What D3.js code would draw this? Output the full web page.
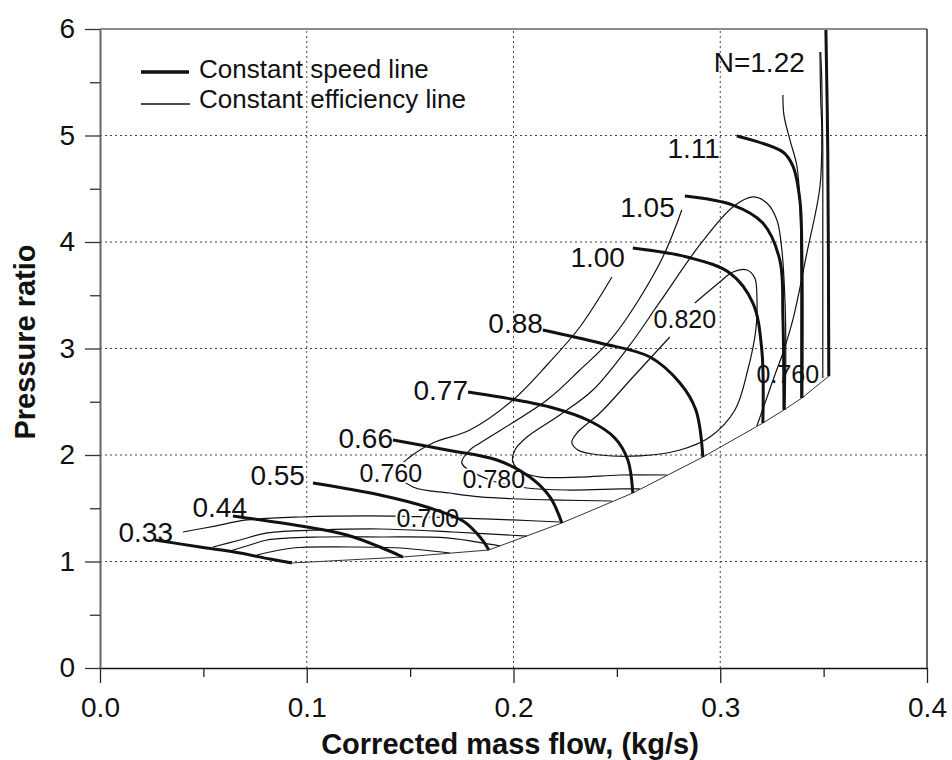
<!DOCTYPE html>
<html>
<head>
<meta charset="utf-8">
<script src="https://cdn.jsdelivr.net/npm/d3@7"></script>
<style>
  body { margin: 0; background: #fff; }
  text { font-family: "Liberation Sans", Arial, sans-serif; }
</style>
</head>
<body>
<svg id="chart"></svg>
<script>
// axis ticks
const xTicks = [0, 0.1, 0.2, 0.3, 0.4];
const xMinor = [0.05, 0.15, 0.25, 0.35];
const yTicks = [0, 1, 2, 3, 4, 5, 6];
const yMinor = [0.5, 1.5, 2.5, 3.5, 4.5, 5.5];

// constant speed lines, [mass flow, pressure ratio]
const speedNames = ["0.33", "0.44", "0.55", "0.66", "0.77", "0.88", "1.00", "1.05", "1.11", "N=1.22"];
const n033 = [[0.0266, 1.202], [0.0484, 1.136], [0.0677, 1.080], [0.0822, 1.023], [0.0928, 0.986]];
const n044 = [[0.0643, 1.427], [0.1001, 1.324], [0.1194, 1.249], [0.1354, 1.136], [0.1465, 1.042]];
const n055 = [[0.1030, 1.737], [0.1354, 1.624], [0.1596, 1.502], [0.1756, 1.380], [0.1838, 1.230], [0.1881, 1.108]];
const n066 = [[0.1417, 2.141], [0.1678, 2.047], [0.1920, 1.953], [0.2079, 1.793], [0.2176, 1.606], [0.2234, 1.362]];
const n077 = [[0.1780, 2.592], [0.1934, 2.545], [0.2176, 2.451], [0.2369, 2.319], [0.2490, 2.160], [0.2553, 1.953], [0.2577, 1.643]];
const n088 = [[0.2142, 3.174], [0.2418, 3.052], [0.2660, 2.920], [0.2805, 2.676], [0.2882, 2.423], [0.2916, 1.981]];
const n100 = [[0.2577, 3.944], [0.2839, 3.859], [0.3046, 3.709], [0.3158, 3.427], [0.3201, 2.986], [0.3206, 2.300]];
const n105 = [[0.2829, 4.432], [0.3061, 4.347], [0.3206, 4.178], [0.3288, 3.831], [0.3303, 3.296], [0.3308, 2.423]];
const n111 = [[0.3080, 4.995], [0.3303, 4.845], [0.3351, 4.714], [0.3385, 4.394], [0.3395, 3.831], [0.3395, 2.535]];
const n122 = [[0.3511, 5.990], [0.3520, 4.860], [0.3525, 2.740]];
// where each speed label ends (right edge, baseline)
const speedLabelAt = [[0.0353, 1.183], [0.0711, 1.418], [0.0991, 1.718], [0.1417, 2.066], [0.1780, 2.516],
  [0.2142, 3.146], [0.2539, 3.765], [0.2780, 4.235], [0.2998, 4.789], [0.3409, 5.596]];

// constant efficiency lines
const eff700 = [[0.0401, 1.277], [0.0556, 1.333], [0.0711, 1.390], [0.0967, 1.418], [0.1417, 1.427],
  [0.1586, 1.418], [0.1741, 1.408], [0.1997, 1.390], [0.2224, 1.371]];
const effB = [[0.0546, 1.136], [0.0677, 1.202], [0.0808, 1.268], [0.1064, 1.296], [0.1354, 1.305], [0.1707, 1.277], [0.2065, 1.239]];
const effC = [[0.0629, 1.099], [0.0725, 1.155], [0.0808, 1.202], [0.1064, 1.230], [0.1354, 1.230], [0.1678, 1.221], [0.1934, 1.146]];
const effD = [[0.0759, 1.061], [0.0933, 1.127], [0.1209, 1.136], [0.1451, 1.127], [0.1692, 1.080]];
const eff760 = [[0.2476, 3.671], [0.2321, 3.202], [0.2162, 2.845], [0.1997, 2.516], [0.1789, 2.235], [0.1610, 2.113],
  [0.1499, 1.981], [0.1431, 1.840], [0.1514, 1.700], [0.1692, 1.643], [0.1838, 1.606], [0.2031, 1.587], [0.2224, 1.577], [0.2476, 1.568]];
const eff780 = [[0.2814, 4.300], [0.2708, 3.803], [0.2481, 3.108], [0.2321, 2.798], [0.2162, 2.516], [0.1838, 2.113],
  [0.1789, 2.047], [0.1750, 1.925], [0.1886, 1.765], [0.2065, 1.690], [0.2273, 1.671], [0.2515, 1.681], [0.2611, 1.681]];
const eff800 = [[0.2742, 1.812], [0.2515, 1.812], [0.2321, 1.793], [0.2128, 1.793], [0.2041, 1.840], [0.1997, 1.934],
  [0.2007, 2.047], [0.2065, 2.169], [0.2224, 2.376], [0.2384, 2.610], [0.2563, 3.033], [0.2708, 3.437], [0.2901, 3.972],
  [0.3061, 4.329], [0.3158, 4.423], [0.3225, 4.366], [0.3274, 4.207], [0.3298, 3.925], [0.3313, 3.455], [0.3317, 2.986], [0.3313, 2.423]];
const eff820 = [[0.2877, 3.427], [0.2998, 3.624], [0.3061, 3.718], [0.3129, 3.737], [0.3167, 3.662], [0.3177, 3.502],
  [0.3172, 3.174], [0.3133, 2.798], [0.3071, 2.423], [0.2950, 2.169], [0.2805, 2.047], [0.2611, 1.991], [0.2418, 2.000],
  [0.2311, 2.047], [0.2282, 2.122], [0.2311, 2.216], [0.2418, 2.394], [0.2587, 2.751], [0.2756, 3.108]];
const effR1 = [[0.3303, 5.380], [0.3308, 5.192], [0.3337, 4.958], [0.3370, 4.723], [0.3385, 4.394], [0.3390, 3.831], [0.3390, 3.174], [0.3390, 2.535]];
const effR2 = [[0.3482, 5.784], [0.3486, 5.333], [0.3491, 5.052], [0.3482, 4.516], [0.3419, 3.897], [0.3351, 3.268],
  [0.3303, 2.958], [0.3264, 2.751], [0.3230, 2.563], [0.3177, 2.272]];
const effR3 = [[0.3486, 5.784], [0.3491, 5.521], [0.3496, 4.864], [0.3496, 3.925], [0.3496, 2.723]];

const effNames = ["0.700", "0.760", "0.780", "0.820", "0.760"];
const effLabelAt = [[0.1586, 1.324], [0.1407, 1.746], [0.1905, 1.690], [0.2829, 3.192], [0.3327, 2.676]];

const speedLines = [n033, n044, n055, n066, n077, n088, n100, n105, n111, n122];
const effLines = [eff700, effB, effC, effD, eff760, eff780, eff800, eff820, effR1, effR2, effR3];

const width = 952, height = 760;
const svg = d3.select("#chart").attr("width", width).attr("height", height);

const x = d3.scaleLinear().domain([0, 0.4]).range([100, 927]);
const y = d3.scaleLinear().domain([0, 6]).range([668, 29]);

// dotted grid
svg.append("g").selectAll("line").data(xTicks.slice(1, -1)).join("line")
  .attr("x1", d => x(d)).attr("x2", d => x(d)).attr("y1", y(0)).attr("y2", y(6))
  .attr("stroke", "#444").attr("stroke-width", 1).attr("stroke-dasharray", "2,3");
svg.append("g").selectAll("line").data(yTicks.slice(1, -1)).join("line")
  .attr("x1", x(0)).attr("x2", x(0.4)).attr("y1", d => y(d)).attr("y2", d => y(d))
  .attr("stroke", "#444").attr("stroke-width", 1).attr("stroke-dasharray", "2,3");

// frame top and right
svg.append("line").attr("x1", x(0)).attr("x2", x(0.4)).attr("y1", y(6)).attr("y2", y(6))
  .attr("stroke", "#666").attr("stroke-width", 1.5);
svg.append("line").attr("x1", x(0.4)).attr("x2", x(0.4)).attr("y1", y(6)).attr("y2", y(0))
  .attr("stroke", "#333").attr("stroke-width", 1.5);

// axes
const gx = svg.append("g").attr("transform", `translate(0,${y(0)})`)
  .call(d3.axisBottom(x).tickValues(xTicks).tickFormat(d3.format(".1f")).tickSize(15).tickSizeOuter(0).tickPadding(14));
gx.attr("font-size", 28).attr("font-family", null);
gx.select(".domain").attr("stroke", "#111").attr("stroke-width", 1.5);
gx.selectAll(".tick line").attr("stroke", "#222").attr("stroke-width", 1.3);
gx.selectAll(".tick text").attr("fill", "#111");

svg.append("g").attr("transform", `translate(0,${y(0)})`)
  .call(d3.axisBottom(x).tickValues(xMinor).tickFormat("").tickSize(9).tickSizeOuter(0))
  .call(g => g.select(".domain").remove())
  .selectAll(".tick line").attr("stroke", "#222").attr("stroke-width", 1.3);

const gy = svg.append("g").attr("transform", `translate(${x(0)},0)`)
  .call(d3.axisLeft(y).tickValues(yTicks).tickFormat(d3.format("d")).tickSize(15).tickSizeOuter(0).tickPadding(10));
gy.attr("font-size", 28).attr("font-family", null);
gy.select(".domain").attr("stroke", "#666").attr("stroke-width", 2);
gy.selectAll(".tick line").attr("stroke", "#333").attr("stroke-width", 1.3);
gy.selectAll(".tick text").attr("fill", "#111");

svg.append("g").attr("transform", `translate(${x(0)},0)`)
  .call(d3.axisLeft(y).tickValues(yMinor).tickFormat("").tickSize(10).tickSizeOuter(0))
  .call(g => g.select(".domain").remove())
  .selectAll(".tick line").attr("stroke", "#333").attr("stroke-width", 1.3);

// axis titles
svg.append("text").attr("x", 510).attr("y", 754).attr("text-anchor", "middle")
  .attr("font-size", 29).attr("font-weight", "bold").attr("fill", "#111")
  .text("Corrected mass flow, (kg/s)");
svg.append("text").attr("transform", "translate(35,342) rotate(-90)").attr("text-anchor", "middle")
  .attr("font-size", 29).attr("font-weight", "bold").attr("fill", "#111")
  .text("Pressure ratio");

const line = d3.line().x(d => x(d[0])).y(d => y(d[1])).curve(d3.curveCatmullRom.alpha(0.5));

// efficiency lines
svg.append("g").selectAll("path").data(effLines).join("path")
  .attr("d", line).attr("fill", "none").attr("stroke", "#111").attr("stroke-width", 1.2);

// choke boundary through the ends of the speed lines
svg.append("path")
  .attr("d", d3.line().x(d => x(d[0])).y(d => y(d[1]))(speedLines.map(s => s[s.length - 1])))
  .attr("fill", "none").attr("stroke", "#333").attr("stroke-width", 1);

// efficiency labels (the last one sits across lines, no gap)
svg.append("g").selectAll("text").data(effNames).join("text")
  .attr("x", (d, i) => x(effLabelAt[i][0])).attr("y", (d, i) => y(effLabelAt[i][1]))
  .attr("text-anchor", "middle").attr("font-size", 25).attr("fill", "#111")
  .attr("stroke", (d, i) => i < 4 ? "#fff" : "none").attr("stroke-width", 4)
  .attr("paint-order", "stroke")
  .text(d => d);

// speed lines
svg.append("g").selectAll("path").data(speedLines).join("path")
  .attr("d", line).attr("fill", "none").attr("stroke", "#111").attr("stroke-width", 3);

svg.append("g").selectAll("text").data(speedNames).join("text")
  .attr("x", (d, i) => x(speedLabelAt[i][0])).attr("y", (d, i) => y(speedLabelAt[i][1]))
  .attr("text-anchor", "end").attr("font-size", 28).attr("fill", "#111")
  .text(d => d);

// legend
const legend = svg.append("g").attr("transform", "translate(141,72)");
legend.append("line").attr("x1", 0).attr("x2", 48).attr("y1", 0).attr("y2", 0)
  .attr("stroke", "#111").attr("stroke-width", 3.3);
legend.append("line").attr("x1", 0).attr("x2", 49).attr("y1", 32).attr("y2", 32)
  .attr("stroke", "#111").attr("stroke-width", 1.3);
legend.append("text").attr("x", 58).attr("y", 6).attr("font-size", 26).attr("fill", "#111").text("Constant speed line");
legend.append("text").attr("x", 58).attr("y", 36).attr("font-size", 26).attr("fill", "#111").text("Constant efficiency line");
</script>
</body>
</html>
